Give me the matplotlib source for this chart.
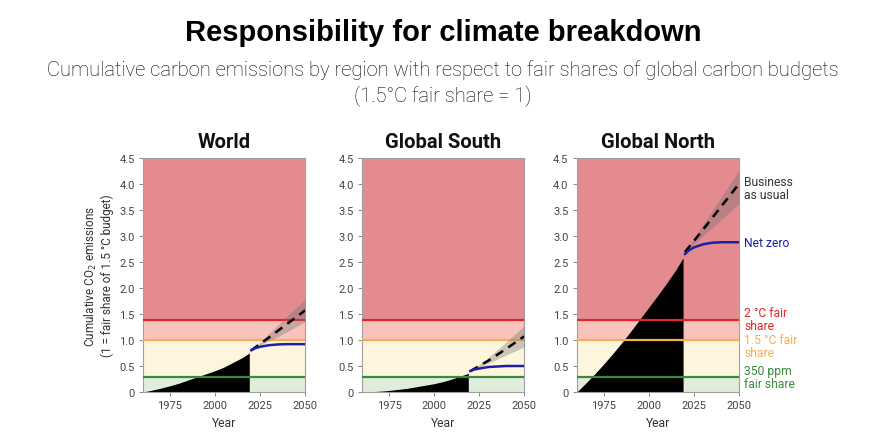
import matplotlib
matplotlib.use("Agg")
import matplotlib.pyplot as plt
import numpy as np

# ---------------- data ----------------
regions = ["World", "Global South", "Global North"]

hist_years = [1960, 1965, 1970, 1975, 1980, 1985, 1990, 1995, 2000, 2005, 2010, 2015, 2019]
hist_world = [0, 0.035, 0.075, 0.12, 0.17, 0.23, 0.29, 0.35, 0.41, 0.48, 0.57, 0.66, 0.75]
hist_south = [0, 0.005, 0.015, 0.03, 0.05, 0.07, 0.10, 0.13, 0.16, 0.20, 0.25, 0.31, 0.36]
hist_north = [0, 0.17, 0.35, 0.54, 0.74, 0.95, 1.17, 1.40, 1.63, 1.86, 2.10, 2.35, 2.58]

nz_years = [2020, 2022, 2025, 2030, 2035, 2040, 2045, 2050]
nz_world = [0.80, 0.84, 0.87, 0.90, 0.915, 0.92, 0.92, 0.92]
nz_south = [0.40, 0.43, 0.45, 0.48, 0.49, 0.50, 0.50, 0.50]
nz_north = [2.65, 2.72, 2.78, 2.84, 2.87, 2.88, 2.88, 2.88]

bau_years = [2020, 2030, 2040, 2050]
bau_world = [0.80, 1.05, 1.31, 1.57]
bau_world_lo = [0.80, 0.98, 1.16, 1.35]
bau_world_hi = [0.80, 1.13, 1.46, 1.78]
bau_south = [0.40, 0.60, 0.83, 1.07]
bau_south_lo = [0.40, 0.55, 0.71, 0.87]
bau_south_hi = [0.40, 0.66, 0.96, 1.27]
bau_north = [2.69, 3.12, 3.56, 4.00]
bau_north_lo = [2.69, 3.00, 3.31, 3.62]
bau_north_hi = [2.69, 3.22, 3.74, 4.26]

thr_350 = 0.28
thr_15 = 1.0
thr_2 = 1.38
y_max = 4.5

x_ticks = [1975, 2000, 2025, 2050]
y_ticks = [0, 0.5, 1.0, 1.5, 2.0, 2.5, 3.0, 3.5, 4.0, 4.5]
y_ticklabels = ["0", "0.5", "1.0", "1.5", "2.0", "2.5", "3.0", "3.5", "4.0", "4.5"]

hist = [hist_world, hist_south, hist_north]
nz = [nz_world, nz_south, nz_north]
bau = [bau_world, bau_south, bau_north]
bau_lo = [bau_world_lo, bau_south_lo, bau_north_lo]
bau_hi = [bau_world_hi, bau_south_hi, bau_north_hi]

# ---------------- style ----------------
FONT = ["Roboto", "DejaVu Sans"]
plt.rcParams["font.family"] = FONT

c_green_bg = "#deeedb"
c_cream_bg = "#fdf5de"
c_pink_bg = "#f7c3bc"
c_red_bg = "#e48b91"
c_green = "#3b8a3b"
c_orange = "#f6ad55"
c_red = "#e0262c"
c_blue = "#1e1ea8"
c_text = "#333333"
c_tick = "#444444"

fig = plt.figure(figsize=(8.86, 4.39), dpi=100)

fig.text(0.5, 0.925, "Responsibility for climate breakdown", ha="center", va="center",
         fontsize=21, fontweight="bold", family=["Liberation Sans", "DejaVu Sans"], color="#000000")
fig.text(0.5, 0.84, "Cumulative carbon emissions by region with respect to fair shares of global carbon budgets",
         ha="center", va="center", fontsize=14.5, fontweight="light", color="#000000")
fig.text(0.5, 0.782, "(1.5°C fair share = 1)", ha="center", va="center",
         fontsize=14.5, fontweight="light", color="#000000")

lefts = [0.1614, 0.4086, 0.651]
bottom = 0.1048
width = 0.183
height = 0.533

for i, name in enumerate(regions):
    ax = fig.add_axes([lefts[i], bottom, width, height])
    ax.set_xlim(1960, 2050)
    ax.set_ylim(0, y_max)
    # background zones
    ax.axhspan(0, thr_350, color=c_green_bg, lw=0, zorder=0)
    ax.axhspan(thr_350, thr_15, color=c_cream_bg, lw=0, zorder=0)
    ax.axhspan(thr_15, thr_2, color=c_pink_bg, lw=0, zorder=0)
    ax.axhspan(thr_2, y_max, color=c_red_bg, lw=0, zorder=0)
    # historical
    ax.fill_between(hist_years, 0, hist[i], color="black", lw=0, zorder=2)
    # threshold lines
    ax.axhline(thr_350, color=c_green, lw=1.6, zorder=3)
    ax.axhline(thr_15, color=c_orange, lw=1.6, zorder=3)
    ax.axhline(thr_2, color=c_red, lw=1.6, zorder=3)
    # BAU band and line
    ax.fill_between(bau_years, bau_lo[i], bau_hi[i], color="#6e6e6e", alpha=0.35, lw=0, zorder=4)
    ax.plot(bau_years, bau[i], color="black", lw=1.8, ls=(0, (3.5, 2.5)), zorder=5)
    # net zero
    ax.plot(nz_years, nz[i], color=c_blue, lw=1.8, zorder=6, solid_capstyle="round")

    ax.set_xticks(x_ticks)
    ax.set_yticks(y_ticks)
    ax.set_yticklabels(y_ticklabels)
    ax.tick_params(axis="both", labelsize=8, colors="#888888", labelcolor=c_tick,
                   length=3, width=0.7, pad=3)
    for sp in ax.spines.values():
        sp.set_color("#a0a0a0")
        sp.set_linewidth(0.8)
    ax.set_xlabel("Year", fontsize=8.7, color=c_text, labelpad=4)
    ax.set_title(name, fontsize=14.5, fontweight="bold", color="#111111", pad=8)
    if i == 0:
        ax.set_ylabel("Cumulative CO$_2$ emissions\n(1 = fair share of 1.5 °C budget)",
                      fontsize=8.5, color=c_text, labelpad=4, linespacing=1.1)
    if i == 2:
        xt = 2053
        fs = 8.7
        ax.text(xt, 3.93, "Business\nas usual", fontsize=fs, color=c_text, va="center",
                ha="left", linespacing=1.0, clip_on=False)
        ax.text(xt, nz_north[-1], "Net zero", fontsize=fs, color=c_blue, va="center",
                ha="left", clip_on=False)
        ax.text(xt, 1.40, "2 °C fair\nshare", fontsize=fs, color=c_red, va="center",
                ha="left", linespacing=1.0, clip_on=False)
        ax.text(xt, 0.89, "1.5 °C fair\nshare", fontsize=fs, color=c_orange, va="center",
                ha="left", linespacing=1.0, clip_on=False)
        ax.text(xt, 0.29, "350 ppm\nfair share", fontsize=fs, color=c_green, va="center",
                ha="left", linespacing=1.0, clip_on=False)

fig.savefig("out.png", dpi=100)
